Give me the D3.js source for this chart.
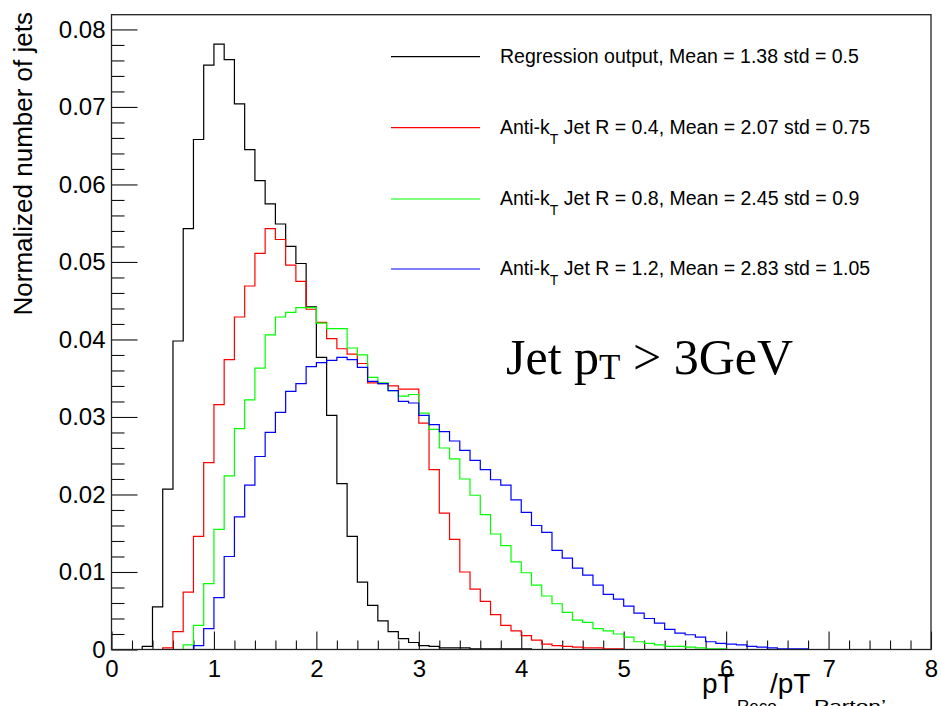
<!DOCTYPE html>
<html>
<head>
<meta charset="utf-8">
<script src="https://cdn.jsdelivr.net/npm/d3@7"></script>
<style>
  html, body { margin: 0; padding: 0; background: #fff; }
  svg { display: block; font-family: "Liberation Sans", Arial, sans-serif; }
</style>
</head>
<body>
<svg id="chart" width="941" height="706"></svg>
<script>
// bin width 0.1, bins start at 0
const binWidth = 0.1;
const regression = [0, 0, 0, 0.0004, 0.0055, 0.0207, 0.0398, 0.0543, 0.0658, 0.0754,
  0.0781, 0.0761, 0.0704, 0.0645, 0.0605, 0.0575, 0.0549, 0.0520, 0.0498, 0.0442,
  0.0377, 0.0302, 0.0214, 0.0146, 0.0087, 0.0057, 0.0037, 0.0023, 0.0014, 0.0009,
  0.0005, 0.0004, 0.0002, 0.0002, 0.0002, 0.0001, 0.0001, 0.0001, 0.0001, 0.0001, 0.0001];
const antiKt04 = [0, 0, 0, 0, 0, 0.0002, 0.0023, 0.0074, 0.0146, 0.0241,
  0.0316, 0.0374, 0.0429, 0.0469, 0.0511, 0.0543, 0.0529, 0.0496, 0.0475, 0.0439,
  0.0422, 0.0401, 0.0388, 0.0381, 0.0369, 0.0344, 0.0343, 0.0340, 0.0336, 0.0336,
  0.0292, 0.0232, 0.0176, 0.0142, 0.0100, 0.0078, 0.0062, 0.0045, 0.0031, 0.0024,
  0.0018, 0.0012, 0.0007, 0.0005, 0.0004, 0.0003, 0.0002, 0.0002, 0.0001, 0.0001];
const antiKt08 = [0, 0, 0, 0, 0, 0, 0, 0.0006, 0.0031, 0.0085,
  0.0155, 0.0224, 0.0285, 0.0322, 0.0363, 0.0406, 0.0429, 0.0435, 0.0441, 0.0441,
  0.0421, 0.0414, 0.0414, 0.0389, 0.0380, 0.0351, 0.0344, 0.0334, 0.0327, 0.0329,
  0.0305, 0.0284, 0.0260, 0.0246, 0.0220, 0.0199, 0.0174, 0.0149, 0.0134, 0.0113,
  0.0099, 0.0083, 0.0069, 0.0059, 0.0048, 0.0038, 0.0035, 0.0027, 0.0024, 0.0020,
  0.0016, 0.0010, 0.0008, 0.0006, 0.0004, 0.0004, 0.0003, 0.0002, 0.0001, 0.0001];
const antiKt12 = [0, 0, 0, 0, 0, 0, 0, 0, 0.0005, 0.0027,
  0.0067, 0.0120, 0.0171, 0.0212, 0.0249, 0.0280, 0.0306, 0.0333, 0.0343, 0.0365,
  0.0370, 0.0373, 0.0377, 0.0374, 0.0364, 0.0346, 0.0343, 0.0334, 0.0320, 0.0318,
  0.0302, 0.0290, 0.0281, 0.0269, 0.0257, 0.0244, 0.0232, 0.0219, 0.0212, 0.0193,
  0.0177, 0.0160, 0.0151, 0.0128, 0.0118, 0.0105, 0.0096, 0.0083, 0.0071, 0.0065,
  0.0056, 0.0047, 0.0040, 0.0034, 0.0026, 0.0021, 0.0019, 0.0016, 0.0010, 0.0008,
  0.0007, 0.0006, 0.0004, 0.0003, 0.0002, 0.0001, 0.0001, 0.0001];

const seriesColors = ['#000000', '#ff0000', '#00ff00', '#0000ff'];
// legend: [text before subscript, subscript, text after]
const legendLabels = [
  ['Regression output, Mean = 1.38 std = 0.5', '', ''],
  ['Anti-k', 'T', ' Jet R = 0.4, Mean = 2.07 std = 0.75'],
  ['Anti-k', 'T', ' Jet R = 0.8, Mean = 2.45 std = 0.9'],
  ['Anti-k', 'T', ' Jet R = 1.2, Mean = 2.83 std = 1.05']
];
const xTicks = [0, 1, 2, 3, 4, 5, 6, 7, 8];
const yTicks = [0, 0.01, 0.02, 0.03, 0.04, 0.05, 0.06, 0.07, 0.08];
const yTickLabels = ['0', '0.01', '0.02', '0.03', '0.04', '0.05', '0.06', '0.07', '0.08'];

const allSeries = [regression, antiKt04, antiKt08, antiKt12];

const svg = d3.select('#chart');
const L = 111.5, R = 931, T = 14.7, B = 649.5;
const x = d3.scaleLinear().domain([0, 8]).range([L, R]);
const y = d3.scaleLinear().domain([0, 0.0819]).range([B, T]);

// minor ticks every 0.2 on x, every 0.002 on y
const xMinor = d3.range(0, 8.0001, 0.2).filter(v => Math.abs(v - Math.round(v)) > 1e-6);
const yMinor = d3.range(0, 0.0819, 0.002).filter(v => Math.abs(v * 100 - Math.round(v * 100)) > 1e-6);

svg.append('g').attr('transform', `translate(0,${B})`)
  .call(d3.axisBottom(x).tickValues(xTicks).tickSize(-18).tickPadding(10).tickFormat(d3.format('d')));
svg.append('g').attr('transform', `translate(0,${B})`)
  .call(d3.axisBottom(x).tickValues(xMinor).tickSize(-9).tickFormat(''));
svg.append('g').attr('transform', `translate(${L},0)`)
  .call(d3.axisLeft(y).tickValues(yTicks).tickSize(-26).tickPadding(6).tickFormat((d, i) => yTickLabels[i]));
svg.append('g').attr('transform', `translate(${L},0)`)
  .call(d3.axisLeft(y).tickValues(yMinor).tickSize(-13).tickFormat(''));

svg.selectAll('.domain').remove();
svg.selectAll('.tick line').attr('stroke', '#111').attr('stroke-width', 1.1);
svg.selectAll('.tick text').attr('font-size', 24).attr('fill', '#000')
  .attr('font-family', '"Liberation Sans", Arial, sans-serif');

// histogram outlines (step contours)
function stepPoints(vals) {
  const pts = [[x(0), y(0)]];
  vals.forEach((v, i) => {
    pts.push([x(i * binWidth), y(v)]);
    pts.push([x((i + 1) * binWidth), y(v)]);
  });
  pts.push([x(vals.length * binWidth), y(0)]);
  return pts;
}
const line = d3.line();
svg.append('g').selectAll('path').data(allSeries).join('path')
  .attr('d', d => line(stepPoints(d)))
  .attr('fill', 'none')
  .attr('stroke', (d, i) => seriesColors[i])
  .attr('stroke-width', 1.2);

// frame
svg.append('rect').attr('x', L).attr('y', T).attr('width', R - L).attr('height', B - T)
  .attr('fill', 'none').attr('stroke', '#222').attr('stroke-width', 1.3);

// legend
const legY = [56.7, 127.7, 199, 269];
const leg = svg.append('g').selectAll('g').data(legendLabels).join('g')
  .attr('transform', (d, i) => `translate(0,${legY[i]})`);
leg.append('line').attr('x1', 391).attr('x2', 480)
  .attr('stroke', (d, i) => seriesColors[i]).attr('stroke-width', 1.2);
const lt = leg.append('text').attr('x', 500).attr('y', 6).attr('font-size', 19.5).attr('fill', '#000');
lt.append('tspan').text(d => d[0]);
lt.append('tspan').attr('font-size', 14).attr('dy', d => d[1] ? 10 : 0).text(d => d[1]);
lt.append('tspan').attr('dy', d => d[1] ? -10 : 0).text(d => d[2]);

// y title
svg.append('text')
  .attr('transform', 'translate(32,12) rotate(-90)')
  .attr('text-anchor', 'end').attr('font-size', 26).attr('fill', '#000')
  .text('Normalized number of jets');

// x title, cut at the bottom edge like the original
const xt = svg.append('text').attr('y', 693).attr('font-size', 28).attr('fill', '#000');
xt.append('tspan').attr('x', 702).text('pT');
xt.append('tspan').attr('x', 737).attr('font-size', 17).attr('dy', 19).text('Reco');
xt.append('tspan').attr('x', 770).attr('dy', -19).text('/pT');
xt.append('tspan').attr('x', 814).attr('font-size', 17).attr('dy', 19)
  .attr('textLength', 72).attr('lengthAdjust', 'spacingAndGlyphs').text('Parton’');

// annotation
const ann = svg.append('text').attr('x', 506).attr('y', 374)
  .attr('font-family', '"Liberation Serif", "Times New Roman", serif')
  .attr('font-size', 50).attr('fill', '#000');
ann.append('tspan').text('Jet p');
ann.append('tspan').attr('font-size', 35).attr('dy', 5).text('T');
ann.append('tspan').attr('dy', -5).text(' > 3GeV');
</script>
</body>
</html>
